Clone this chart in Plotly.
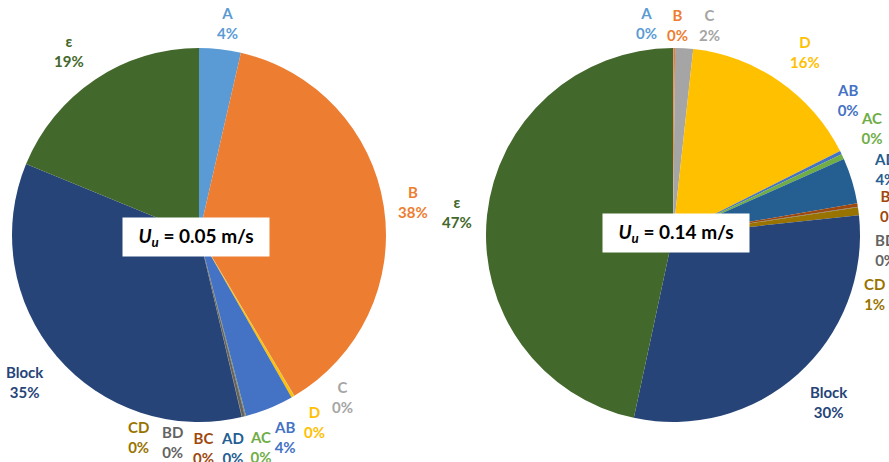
import plotly.graph_objects as go

# ---- data ----
categories = ["A", "B", "C", "D", "AB", "AC", "AD", "BC", "BD", "CD", "Block", "ε"]
colors = ["#5B9BD5", "#ED7D31", "#A5A5A5", "#FFC000", "#4472C4", "#70AD47",
          "#255E91", "#9E480E", "#636363", "#997300", "#264478", "#43682B"]
share_005 = [3.6, 37.9, 0.03, 0.25, 4.2, 0.03, 0.03, 0.03, 0.25, 0.03, 34.9, 18.8]
share_014 = [0.03, 0.15, 1.55, 15.9, 0.3, 0.45, 3.95, 0.3, 0.05, 0.7, 30.1, 46.75]
titles = ["0.05", "0.14"]

# ---- layout helpers (label anchor positions in window pixels) ----
W, H = 889, 462
label_pos_005 = [(227, 23), (413, 202), (342, 397), (314, 422), (285, 437), (261, 447),
                 (232, 448), (203, 448), (172, 442), (138, 437), (25, 382), (69, 51)]
label_pos_014 = [(646, 23), (677, 25), (709, 25), (805, 52), (848, 100), (872, 128),
                 (885, 169), (890, 206), (885, 250), (874, 294), (829, 402), (457, 212)]
pies = [
    dict(values=share_005, cx=199, cy=235, r=187, labels=label_pos_005, box=(196, 237)),
    dict(values=share_014, cx=673, cy=235, r=187, labels=label_pos_014, box=(676, 233)),
]

FONT = "Lato, 'Open Sans', Arial, sans-serif"


def px(x):
    return x / W


def py(y):
    return 1 - y / H


fig = go.Figure()
annotations = []
for p, title in zip(pies, titles):
    fig.add_trace(go.Pie(
        labels=categories,
        values=p["values"],
        sort=False,
        direction="clockwise",
        rotation=0,
        marker=dict(colors=colors, line=dict(width=0)),
        textinfo="none",
        hoverinfo="label+percent",
        domain=dict(x=[px(p["cx"] - p["r"]), px(p["cx"] + p["r"])],
                    y=[py(p["cy"] + p["r"]), py(p["cy"] - p["r"])]),
        showlegend=False,
    ))
    for cat, val, col, (lx, ly) in zip(categories, p["values"], colors, p["labels"]):
        annotations.append(dict(
            x=px(lx), y=py(ly), xref="paper", yref="paper",
            xanchor="center", yanchor="middle", showarrow=False,
            text=f"<b>{cat}</b><br><b>{round(val):.0f}%</b>",
            font=dict(family=FONT, size=15, color=col),
            align="center",
        ))
    bx, by = p["box"]
    annotations.append(dict(
        x=px(bx), y=py(by), xref="paper", yref="paper",
        xanchor="center", yanchor="middle", showarrow=False,
        text=f"<b><i>U<sub>u</sub></i> = {title} m/s</b>",
        font=dict(family=FONT, size=19, color="black"),
        bgcolor="white", width=142, height=34, borderpad=2,
    ))

fig.update_layout(
    width=W, height=H,
    margin=dict(l=0, r=0, t=0, b=0),
    paper_bgcolor="white",
    plot_bgcolor="white",
    annotations=annotations,
)

fig.write_html(
    "out.html",
    config={"displayModeBar": False},
    post_script="document.body.style.margin='0';document.body.style.overflow='hidden';",
)
